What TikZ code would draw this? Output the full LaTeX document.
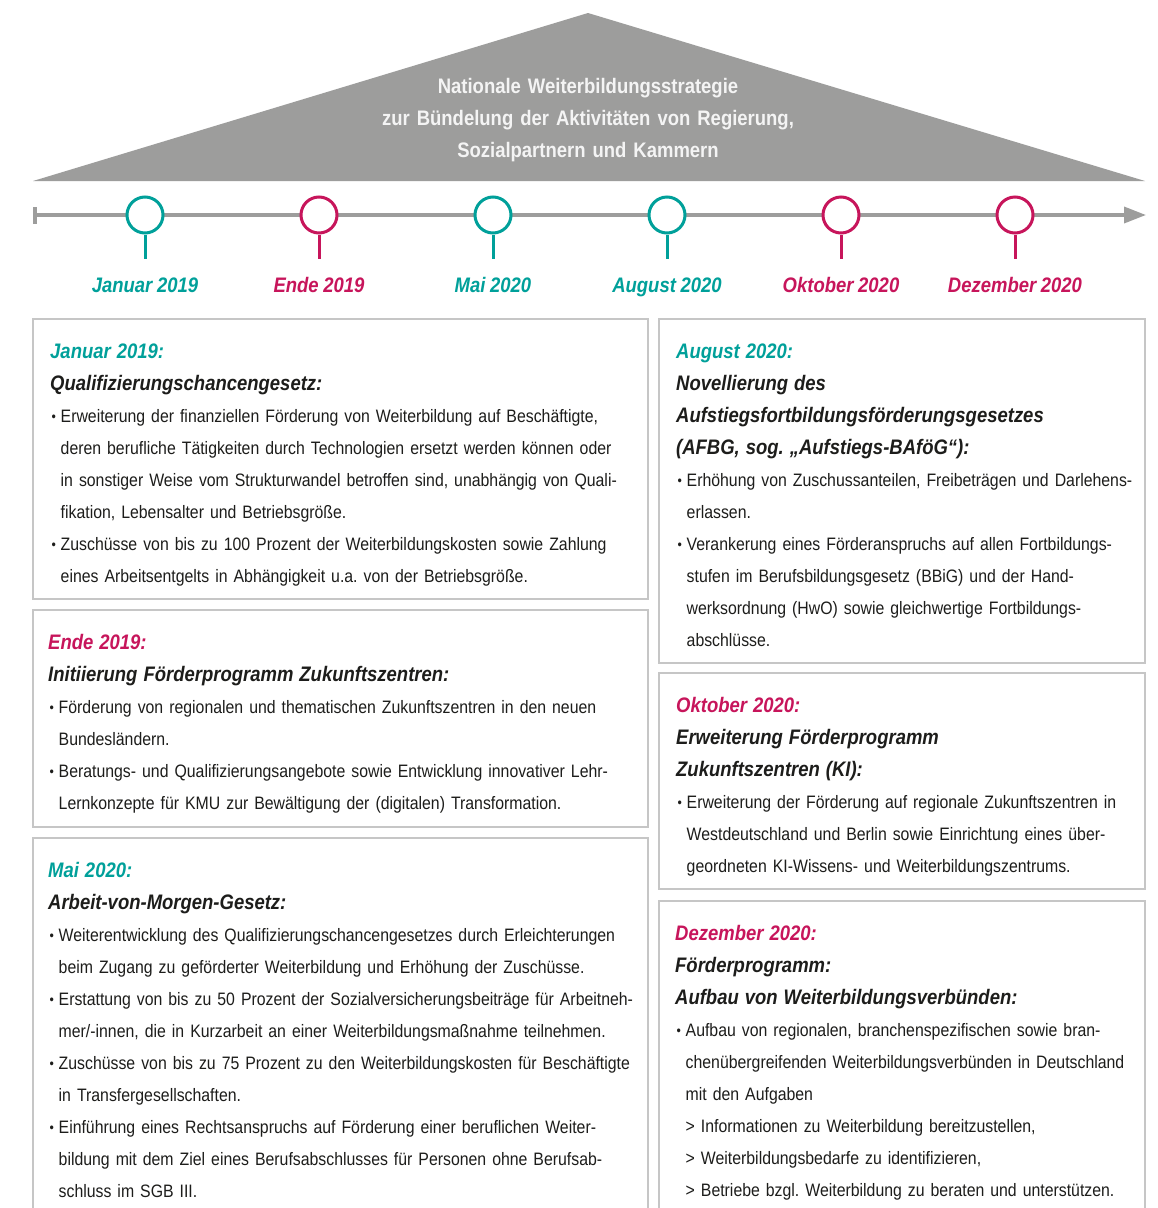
\documentclass[tikz,border=0pt]{standalone}
\usepackage{fontspec}
\setmainfont{Liberation Sans}[FakeStretch=0.88, WordSpace=0.9]
\usetikzlibrary{arrows.meta}
\definecolor{wbgray}{RGB}{157,157,156}
\definecolor{wbframe}{RGB}{198,198,198}
\definecolor{wbteal}{RGB}{0,160,154}
\definecolor{wbred}{RGB}{199,21,91}
\definecolor{wbtext}{RGB}{29,29,27}
\definecolor{wbwhite}{RGB}{244,244,244}
\newcommand{\bul}{\makebox[10.5pt][l]{\hspace{1.5pt}\raisebox{1pt}{\fontsize{14}{14}\selectfont •}}}
\newcommand{\ind}{\hspace*{10.5pt}}
\newcommand{\hd}{\fontsize{21}{32}\selectfont\bfseries\itshape}
\frenchspacing

\begin{document}
\begin{tikzpicture}[x=1pt, y=-1pt,
  marker/.style={circle, draw, line width=3pt, fill=white, minimum size=36pt, inner sep=0pt},
  datelabel/.style={anchor=base, font=\hd},
  infobox/.style={draw=wbframe, line width=2.5pt},
  infotext/.style={anchor=base west, inner sep=0pt, text width=#1, align=left, text=wbtext,
    font=\fontsize{18}{32}\selectfont\frenchspacing}]
  \clip (0,0) rectangle (1158,1208);
  \fill[white] (0,0) rectangle (1158,1208);

  % roof
  \fill[wbgray] (33,181) -- (588,13) -- (1145,181) -- cycle;
  \node[anchor=base, text width=600pt, align=center, text=wbwhite, inner sep=0pt,
    font=\fontsize{21}{32}\selectfont\bfseries] (roof) at (588,93)
    {Nationale Weiterbildungsstrategie\\
     zur Bündelung der Aktivitäten von Regierung,\\
     Sozialpartnern und Kammern};

  % timeline
  \coordinate (t0) at (33,215);
  \coordinate (t1) at (1146,215);
  \draw[wbgray, line width=3.5pt, {Bar[width=17pt]}-{Triangle[length=22pt, width=16pt]}] (t0) -- (t1);
  \foreach \x/\c/\t [count=\i] in {145/wbteal/Januar 2019, 319/wbred/Ende 2019, 493/wbteal/Mai 2020,
      667/wbteal/August 2020, 841/wbred/Oktober 2020, 1015/wbred/Dezember 2020} {
    \node[marker, draw=\c] (m\i) at (\x,215) {};
    \draw[\c, line width=3pt] (m\i.south) -- ++(0,24);
    \node[datelabel, text=\c] (d\i) at (\x,292) {\t};
  }

  % boxes
  \draw[infobox] (33,319) rectangle (648,599);
  \draw[infobox] (33,610) rectangle (648,827);
  \draw[infobox] (33,838) rectangle (648,1230);
  \draw[infobox] (659,319) rectangle (1145,663);
  \draw[infobox] (659,673) rectangle (1145,889);
  \draw[infobox] (659,901) rectangle (1145,1230);

  \node[infotext=640pt] (jan) at (50,358) {{\hd\color{wbteal}Januar 2019:}\\
    {\hd Qualifizierungschancengesetz:}\\
    \bul Erweiterung der finanziellen Förderung von Weiterbildung auf Beschäftigte,\\
    \ind deren berufliche Tätigkeiten durch Technologien ersetzt werden können oder\\
    \ind in sonstiger Weise vom Strukturwandel betroffen sind, unabhängig von Quali-\\
    \ind fikation, Lebensalter und Betriebsgröße.\\
    \bul Zuschüsse von bis zu 100 Prozent der Weiterbildungskosten sowie Zahlung\\
    \ind eines Arbeitsentgelts in Abhängigkeit u.a. von der Betriebsgröße.};

  \node[infotext=640pt] (ende) at (48,649) {{\hd\color{wbred}Ende 2019:}\\
    {\hd Initiierung Förderprogramm Zukunftszentren:}\\
    \bul Förderung von regionalen und thematischen Zukunftszentren in den neuen\\
    \ind Bundesländern.\\
    \bul Beratungs- und Qualifizierungsangebote sowie Entwicklung innovativer Lehr-\\
    \ind Lernkonzepte für KMU zur Bewältigung der (digitalen) Transformation.};

  \node[infotext=640pt] (mai) at (48,877) {{\hd\color{wbteal}Mai 2020:}\\
    {\hd Arbeit-von-Morgen-Gesetz:}\\
    \bul Weiterentwicklung des Qualifizierungschancengesetzes durch Erleichterungen\\
    \ind beim Zugang zu geförderter Weiterbildung und Erhöhung der Zuschüsse.\\
    \bul Erstattung von bis zu 50 Prozent der Sozialversicherungsbeiträge für Arbeitneh-\\
    \ind mer/-innen, die in Kurzarbeit an einer Weiterbildungsmaßnahme teilnehmen.\\
    \bul Zuschüsse von bis zu 75 Prozent zu den Weiterbildungskosten für Beschäftigte\\
    \ind in Transfergesellschaften.\\
    \bul Einführung eines Rechtsanspruchs auf Förderung einer beruflichen Weiter-\\
    \ind bildung mit dem Ziel eines Berufsabschlusses für Personen ohne Berufsab-\\
    \ind schluss im SGB III.};

  \node[infotext=500pt] (aug) at (676,358) {{\hd\color{wbteal}August 2020:}\\
    {\hd Novellierung des}\\
    {\hd Aufstiegsfortbildungsförderungsgesetzes}\\
    {\hd (AFBG, sog. „Aufstiegs-BAföG“):}\\
    \bul Erhöhung von Zuschussanteilen, Freibeträgen und Darlehens-\\
    \ind erlassen.\\
    \bul Verankerung eines Förderanspruchs auf allen Fortbildungs-\\
    \ind stufen im Berufsbildungsgesetz (BBiG) und der Hand-\\
    \ind werksordnung (HwO) sowie gleichwertige Fortbildungs-\\
    \ind abschlüsse.};

  \node[infotext=500pt] (okt) at (676,712) {{\hd\color{wbred}Oktober 2020:}\\
    {\hd Erweiterung Förderprogramm}\\
    {\hd Zukunftszentren (KI):}\\
    \bul Erweiterung der Förderung auf regionale Zukunftszentren in\\
    \ind Westdeutschland und Berlin sowie Einrichtung eines über-\\
    \ind geordneten KI-Wissens- und Weiterbildungszentrums.};

  \node[infotext=500pt] (dez) at (675,940) {{\hd\color{wbred}Dezember 2020:}\\
    {\hd Förderprogramm:}\\
    {\hd Aufbau von Weiterbildungsverbünden:}\\
    \bul Aufbau von regionalen, branchenspezifischen sowie bran-\\
    \ind chenübergreifenden Weiterbildungsverbünden in Deutschland\\
    \ind mit den Aufgaben\\
    \ind > Informationen zu Weiterbildung bereitzustellen,\\
    \ind > Weiterbildungsbedarfe zu identifizieren,\\
    \ind > Betriebe bzgl. Weiterbildung zu beraten und unterstützen.};
\end{tikzpicture}
\end{document}
